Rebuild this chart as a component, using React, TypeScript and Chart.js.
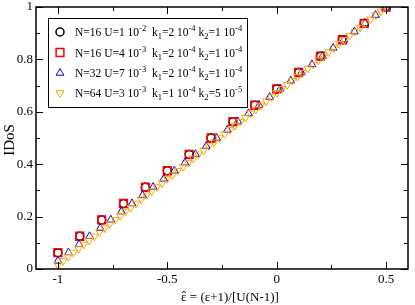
import React, { useEffect, useRef } from "react";
import { Chart, registerables } from "chart.js";
Chart.register(...registerables);

// N=16 (both U=1e-2 and U=4e-3)
const x16 = [-1, -0.9, -0.8, -0.7, -0.6, -0.5, -0.4, -0.3, -0.2, -0.1, 0, 0.1, 0.2, 0.3, 0.4, 0.5];
const y16a = [0.0625, 0.125, 0.1875, 0.25, 0.3125, 0.375, 0.4375, 0.5, 0.5625, 0.625, 0.6875, 0.75, 0.8125, 0.875, 0.9375, 1];
const y16b = [0.0625, 0.125, 0.1875, 0.25, 0.3125, 0.375, 0.4375, 0.5, 0.5625, 0.625, 0.6875, 0.75, 0.8125, 0.875, 0.9375, 1];
// N=32
const x32 = [-1, -0.9516, -0.9032, -0.8548, -0.8065, -0.7581, -0.7097, -0.6613, -0.6129, -0.5645, -0.5161, -0.4677, -0.4194, -0.371, -0.3226, -0.2742, -0.2258, -0.1774, -0.129, -0.0806, -0.0323, 0.0161, 0.0645, 0.1129, 0.1613, 0.2097, 0.2581, 0.3065, 0.3548, 0.4032, 0.4516, 0.5];
const y32 = [0.031, 0.063, 0.094, 0.125, 0.156, 0.188, 0.219, 0.25, 0.281, 0.313, 0.344, 0.375, 0.406, 0.438, 0.469, 0.5, 0.531, 0.563, 0.594, 0.625, 0.656, 0.688, 0.719, 0.75, 0.781, 0.813, 0.844, 0.875, 0.906, 0.938, 0.969, 1];
// N=64
const x64 = [-1, -0.9762, -0.9524, -0.9286, -0.9048, -0.881, -0.8571, -0.8333, -0.8095, -0.7857, -0.7619, -0.7381, -0.7143, -0.6905, -0.6667, -0.6429, -0.619, -0.5952, -0.5714, -0.5476, -0.5238, -0.5, -0.4762, -0.4524, -0.4286, -0.4048, -0.381, -0.3571, -0.3333, -0.3095, -0.2857, -0.2619, -0.2381, -0.2143, -0.1905, -0.1667, -0.1429, -0.119, -0.0952, -0.0714, -0.0476, -0.0238, 0, 0.0238, 0.0476, 0.0714, 0.0952, 0.119, 0.1429, 0.1667, 0.1905, 0.2143, 0.2381, 0.2619, 0.2857, 0.3095, 0.3333, 0.3571, 0.381, 0.4048, 0.4286, 0.4524, 0.4762, 0.5];
const y64 = [0.016, 0.031, 0.047, 0.063, 0.078, 0.094, 0.109, 0.125, 0.141, 0.156, 0.172, 0.188, 0.203, 0.219, 0.234, 0.25, 0.266, 0.281, 0.297, 0.313, 0.328, 0.344, 0.359, 0.375, 0.391, 0.406, 0.422, 0.438, 0.453, 0.469, 0.484, 0.5, 0.516, 0.531, 0.547, 0.563, 0.578, 0.594, 0.609, 0.625, 0.641, 0.656, 0.672, 0.688, 0.703, 0.719, 0.734, 0.75, 0.766, 0.781, 0.797, 0.813, 0.828, 0.844, 0.859, 0.875, 0.891, 0.906, 0.922, 0.938, 0.953, 0.969, 0.984, 1];

const xMajor = [-1, -0.5, 0, 0.5];
const xMinor = [-0.75, -0.25, 0.25];
const yMajor = [0, 0.2, 0.4, 0.6, 0.8, 1];
const yMinor = [0.1, 0.3, 0.5, 0.7, 0.9];
const xTickLabels = ["-1", "-0.5", "0", "0.5"];
const yTickLabels = ["0", "0.2", "0.4", "0.6", "0.8", "1"];
const xTitleHead = "\u03B5";
const xTitleRest = " = (\u03B5+1)/[U(N-1)]";
const yTitle = "IDoS";

type Seg = { t: string; s?: "sup" | "sub" };
const legendRows: Seg[][] = [
  [{ t: "N=16 U=1 10" }, { t: "-2", s: "sup" }, { t: "  k" }, { t: "1", s: "sub" }, { t: "=2 10" }, { t: "-4", s: "sup" }, { t: " k" }, { t: "2", s: "sub" }, { t: "=1 10" }, { t: "-4", s: "sup" }],
  [{ t: "N=16 U=4 10" }, { t: "-3", s: "sup" }, { t: "  k" }, { t: "1", s: "sub" }, { t: "=2 10" }, { t: "-4", s: "sup" }, { t: " k" }, { t: "2", s: "sub" }, { t: "=1 10" }, { t: "-4", s: "sup" }],
  [{ t: "N=32 U=7 10" }, { t: "-3", s: "sup" }, { t: "  k" }, { t: "1", s: "sub" }, { t: "=2 10" }, { t: "-4", s: "sup" }, { t: " k" }, { t: "2", s: "sub" }, { t: "=1 10" }, { t: "-4", s: "sup" }],
  [{ t: "N=64 U=3 10" }, { t: "-3", s: "sup" }, { t: "  k" }, { t: "1", s: "sub" }, { t: "=1 10" }, { t: "-4", s: "sup" }, { t: " k" }, { t: "2", s: "sub" }, { t: "=5 10" }, { t: "-5", s: "sup" }],
];

const SERIF = "'Liberation Serif', 'Times New Roman', serif";

const toPts = (xs: number[], ys: number[]) => xs.map((x, i) => ({ x, y: ys[i] }));

function drawMarker(ctx: CanvasRenderingContext2D, style: string, x: number, y: number, r: number, rot: number) {
  ctx.beginPath();
  if (style === "circle") {
    ctx.arc(x, y, r, 0, Math.PI * 2);
  } else if (style === "rect") {
    const s = Math.SQRT1_2 * r;
    ctx.rect(x - s, y - s, 2 * s, 2 * s);
  } else {
    const a0 = (rot * Math.PI) / 180;
    for (let k = 0; k < 3; k++) {
      const a = a0 + k * (2 * Math.PI / 3);
      const px = x + Math.sin(a) * r;
      const py = y - Math.cos(a) * r;
      if (k === 0) ctx.moveTo(px, py); else ctx.lineTo(px, py);
    }
    ctx.closePath();
  }
  ctx.stroke();
}

const framePlugin = {
  id: "frame",
  afterDraw(chart: any) {
    const ctx = chart.ctx as CanvasRenderingContext2D;
    const { left, right, top, bottom } = chart.chartArea;
    const xs = chart.scales.x;
    const ys = chart.scales.y;
    ctx.save();
    ctx.strokeStyle = "#000";
    ctx.lineWidth = 1;
    const tick = (major: boolean) => {
      const len = major ? 7 : 4;
      for (const v of major ? xMajor : xMinor) {
        const px = Math.round(xs.getPixelForValue(v)) + 0.5;
        ctx.beginPath();
        ctx.moveTo(px, bottom); ctx.lineTo(px, bottom - len);
        ctx.moveTo(px, top); ctx.lineTo(px, top + len);
        ctx.stroke();
      }
      for (const v of major ? yMajor : yMinor) {
        const py = Math.round(ys.getPixelForValue(v)) + 0.5;
        ctx.beginPath();
        ctx.moveTo(left, py); ctx.lineTo(left + len, py);
        ctx.moveTo(right, py); ctx.lineTo(right - len, py);
        ctx.stroke();
      }
    };
    tick(true);
    tick(false);
    ctx.lineWidth = 1.5;
    ctx.strokeRect(left, top, right - left, bottom - top);

    // tick labels
    ctx.fillStyle = "#000";
    ctx.font = `13px ${SERIF}`;
    ctx.textAlign = "center";
    ctx.textBaseline = "top";
    xMajor.forEach((v, i) => ctx.fillText(xTickLabels[i], xs.getPixelForValue(v), bottom + 4));
    ctx.textAlign = "right";
    ctx.textBaseline = "middle";
    yMajor.forEach((v, i) => ctx.fillText(yTickLabels[i], left - 3, ys.getPixelForValue(v)));

    // x title with hat over epsilon
    ctx.font = `13px ${SERIF}`;
    ctx.textAlign = "left";
    ctx.textBaseline = "alphabetic";
    const wHead = ctx.measureText(xTitleHead).width;
    const wRest = ctx.measureText(xTitleRest).width;
    const x0 = 230 - (wHead + wRest) / 2;
    const base = 301;
    ctx.fillText(xTitleHead, x0, base);
    ctx.fillText(xTitleRest, x0 + wHead, base);
    ctx.textAlign = "center";
    ctx.fillText("\u02C6", x0 + wHead / 2, base - 1);

    // y title
    ctx.font = `15px ${SERIF}`;
    ctx.textAlign = "center";
    ctx.textBaseline = "middle";
    ctx.save();
    ctx.translate(10, 140);
    ctx.rotate(-Math.PI / 2);
    ctx.fillText(yTitle, 0, 0);
    ctx.restore();

    // legend
    const bx = 48.5, by = 18.5, bw = 199, bh = 89;
    ctx.fillStyle = "#fff";
    ctx.fillRect(bx, by, bw, bh);
    ctx.lineWidth = 1;
    ctx.strokeStyle = "#000";
    ctx.strokeRect(bx, by, bw, bh);
    const rowY = [32, 52.5, 73, 93];
    const ds = chart.data.datasets;
    rowY.forEach((ry, i) => {
      const d = ds[i];
      ctx.save();
      ctx.strokeStyle = d.borderColor;
      ctx.lineWidth = d.borderWidth;
      drawMarker(ctx, d.pointStyle, 60, ry, d.pointRadius, d.pointRotation || 0);
      ctx.restore();
      let cx = 75;
      ctx.fillStyle = "#000";
      ctx.textAlign = "left";
      ctx.textBaseline = "alphabetic";
      const b = ry + 4;
      for (const seg of legendRows[i]) {
        if (seg.s === "sup") {
          ctx.font = `8.5px ${SERIF}`;
          ctx.fillText(seg.t, cx, b - 5);
        } else if (seg.s === "sub") {
          ctx.font = `8.5px ${SERIF}`;
          ctx.fillText(seg.t, cx, b + 3);
        } else {
          ctx.font = `11.5px ${SERIF}`;
          ctx.fillText(seg.t, cx, b);
        }
        cx += ctx.measureText(seg.t).width;
      }
    });
    ctx.restore();
  },
};

export default function App() {
  const ref = useRef<HTMLCanvasElement>(null);
  useEffect(() => {
    if (!ref.current) return;
    const chart = new Chart(ref.current, {
      type: "scatter",
      data: {
        datasets: [
          { label: "N=16 U=1e-2", data: toPts(x16, y16a), pointStyle: "circle", pointRadius: 4, borderColor: "#000000", backgroundColor: "rgba(0,0,0,0)", borderWidth: 1.5, order: 3 },
          { label: "N=16 U=4e-3", data: toPts(x16, y16b), pointStyle: "rect", pointRadius: 5.5, borderColor: "#ff0000", backgroundColor: "rgba(0,0,0,0)", borderWidth: 1.5, order: 2 },
          { label: "N=32 U=7e-3", data: toPts(x32, y32), pointStyle: "triangle", pointRadius: 4.5, borderColor: "#0000ff", backgroundColor: "rgba(0,0,0,0)", borderWidth: 1, order: 1 },
          { label: "N=64 U=3e-3", data: toPts(x64, y64), pointStyle: "triangle", pointRadius: 4.5, pointRotation: 180, borderColor: "#ffa500", backgroundColor: "rgba(0,0,0,0)", borderWidth: 1, order: 0 },
        ] as any,
      },
      options: {
        animation: false,
        responsive: false,
        devicePixelRatio: 1,
        layout: { padding: { left: 36, top: 4, right: 2, bottom: 36 } },
        plugins: { legend: { display: false }, tooltip: { enabled: false } },
        scales: {
          x: { type: "linear", min: -1.1, max: 0.6, display: false },
          y: { type: "linear", min: 0, max: 1, display: false },
        },
      },
      plugins: [framePlugin],
    });
    return () => chart.destroy();
  }, []);
  return (
    <div style={{ position: "fixed", left: 0, top: 0, width: 415, height: 305, background: "#fff" }}>
      <canvas ref={ref} width={415} height={305} style={{ display: "block" }} />
    </div>
  );
}
